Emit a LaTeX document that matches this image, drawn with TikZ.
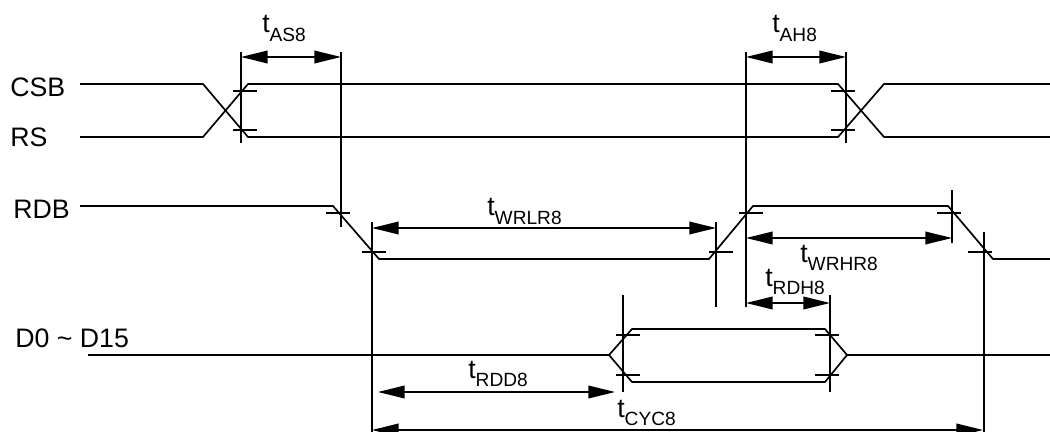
\documentclass[tikz,border=0pt]{standalone}
\usepackage{fontspec}
\setmainfont{Liberation Sans}
\usetikzlibrary{arrows.meta}

\newcommand{\tlab}[1]{t\raisebox{-5.9pt}{\fontsize{13.6}{14}\selectfont #1}}

\tikzset{
	signal/.style={line width=1.2pt},
	guide/.style={line width=1.2pt},
	dim/.style={line width=1.2pt, {Triangle[length=19pt,width=9pt]}-{Triangle[length=19pt,width=9pt]}},
	sigName/.style={anchor=west, inner sep=0pt, font=\fontsize{19}{22}\selectfont},
	timeLab/.style={anchor=base west, inner sep=0pt, font=\fontsize{19}{22}\selectfont}
}

\begin{document}
\begin{tikzpicture}[x=0.025cm, y=-0.025cm]

\useasboundingbox (0,0) rectangle (1050,432);

%Signal names
\node (csb) at (10,87) [sigName]{CSB};
\node (rs) at (10,137) [sigName]{RS};
\node (rdb) at (13,209) [sigName]{RDB};
\node (data) at (15,338) [sigName]{D0 \textasciitilde{} D15};

%CSB and RS
\draw[signal] (80,84) -- (203,84) -- (248,137) -- (838,137) -- (884,84) -- (1050,84);
\draw[signal] (80,137) -- (203,137) -- (248,84) -- (838,84) -- (884,137) -- (1050,137);

%RDB
\draw[signal] (80,206) -- (333,206) -- (379,259) -- (709,259) -- (753,206) -- (948,206)
	-- (993,259) -- (1050,259);

%Data bus
\draw[signal] (88,355) -- (609,355);
\draw[signal] (609,355) -- (632,329) -- (825,329) -- (847,355) -- (825,382) -- (632,382) -- cycle;
\draw[signal] (847,355) -- (1050,355);

%Timing guides
\draw[guide] (241,52) -- (241,143);
\draw[guide] (341,52) -- (341,227);
\draw[guide] (746,52) -- (746,307);
\draw[guide] (846,52) -- (846,143);
\draw[guide] (372,222) -- (372,432);
\draw[guide] (716,222) -- (716,307);
\draw[guide] (952,190) -- (952,243);
\draw[guide] (984,232) -- (984,432);
\draw[guide] (623,295) -- (623,392);
\draw[guide] (830,295) -- (830,392);

%Ticks on the edges
\foreach \x/\y in {245/91, 245/130, 843/91, 843/130, 338/213, 374/252, 721/252, 751/213,
	949/213, 980/252, 628/335, 628/375, 827/335, 827/375}
	\draw[guide] (\x-12,\y) -- (\x+12,\y);

%Dimension arrows
\draw[dim] (241,57) -- (341,57);
\draw[dim] (746,57) -- (846,57);
\draw[dim] (372,228) -- (716,228);
\draw[dim] (746,238) -- (952,238);
\draw[dim] (746,303) -- (830,303);
\draw[dim] (378,392) -- (615,392);
\draw[dim] (372,430) -- (983,430);

%Timing labels
\node (tas) at (262,33) [timeLab]{\tlab{AS8}};
\node (tah) at (772,33) [timeLab]{\tlab{AH8}};
\node (twrlr) at (487,216) [timeLab]{\tlab{WRLR8}};
\node (twrhr) at (800,262) [timeLab]{\tlab{WRHR8}};
\node (trdh) at (765,286) [timeLab]{\tlab{RDH8}};
\node (trdd) at (468,378) [timeLab]{\tlab{RDD8}};
\node (tcyc) at (617,417) [timeLab]{\tlab{CYC8}};

\end{tikzpicture}
\end{document}
